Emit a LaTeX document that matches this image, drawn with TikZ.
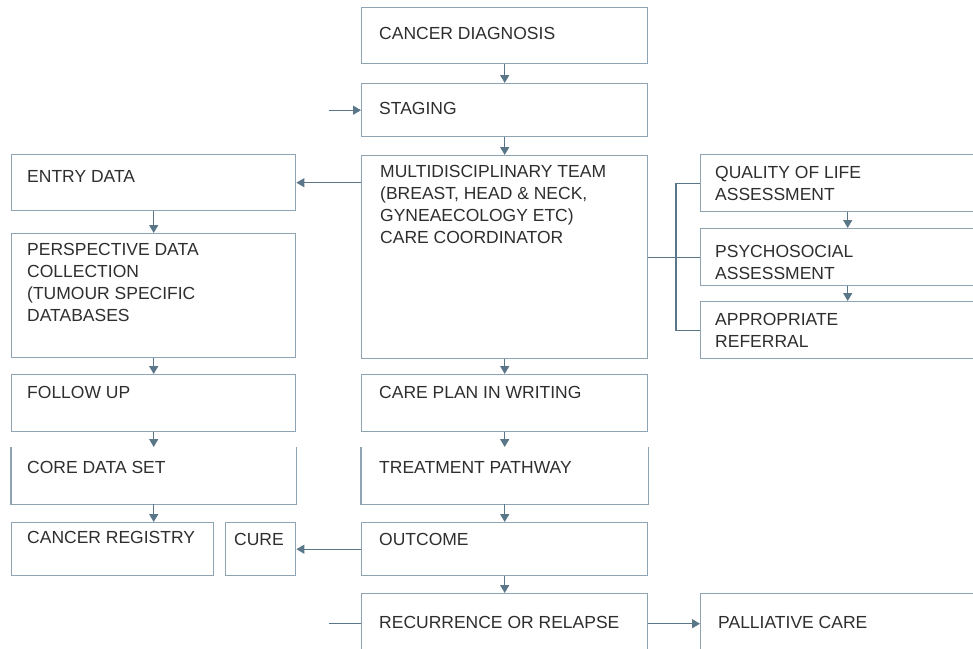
\documentclass[tikz,border=0pt]{standalone}
\usepackage{fontspec}
\setmainfont{Liberation Sans}
\usepackage{tikz}
\usetikzlibrary{arrows.meta,positioning}
\definecolor{Edge}{HTML}{8FA4B3}
\definecolor{Flow}{HTML}{5A7689}
\definecolor{Ink}{HTML}{2E2E2E}

\begin{document}
\begin{tikzpicture}[x=1pt,y=-1pt,
    box/.style={draw=Edge,line width=1.4pt,anchor=north west,inner sep=0pt},
    txt/.style={Ink,anchor=north west,inner sep=0pt,align=left,font=\fontsize{17.5}{22}\selectfont},
    arr/.style={Flow,line width=1.3pt,-{Triangle[width=9pt,length=8pt]}},
    link/.style={Flow,line width=1.3pt}]
  \useasboundingbox(0,0)rectangle(973,648);
  \clip(0,0)rectangle(973,648);
  % centre column
  \node[box,minimum width=286pt,minimum height=56pt](diag)at(361,7){};
  \node[box,minimum width=286pt,minimum height=53pt](staging)at(361,83){};
  \node[box,minimum width=286pt,minimum height=203pt](mdt)at(361,155){};
  \node[box,minimum width=286pt,minimum height=57pt](plan)at(361,374){};
  \node[box,draw=none,minimum width=286pt,minimum height=56pt](treat)at(361,447){};
  \node[box,minimum width=286pt,minimum height=53pt](outcome)at(361,522){};
  \node[box,minimum width=286pt,minimum height=60pt](recur)at(361,593){};
  % left column
  \node[box,minimum width=284pt,minimum height=56pt](entry)at(11,154){};
  \node[box,minimum width=284pt,minimum height=124pt](persp)at(11,233){};
  \node[box,minimum width=284pt,minimum height=57pt](follow)at(11,374){};
  \node[box,draw=none,minimum width=284pt,minimum height=56pt](core)at(11,447){};
  \node[box,minimum width=202pt,minimum height=53pt](registry)at(11,522){};
  \node[box,minimum width=70pt,minimum height=53pt](cure)at(225,522){};
  % right column
  \node[box,minimum width=294pt,minimum height=57pt](qol)at(700,154){};
  \node[box,minimum width=294pt,minimum height=57pt](psych)at(700,228){};
  \node[box,minimum width=294pt,minimum height=57pt](approp)at(700,301){};
  \node[box,minimum width=294pt,minimum height=60pt](pall)at(700,593){};
  % open top boxes
  \draw[Edge,line width=1.4pt](treat.north west)--(treat.south west)--(treat.south east)--(treat.north east);
  \draw[Edge,line width=1.4pt](core.north west)--(core.south west)--(core.south east)--(core.north east);

  % labels
  \node[txt,below right=20pt and 18pt of diag.north west](diagT){CANCER DIAGNOSIS};
  \node[txt,below right=19pt and 18pt of staging.north west](stagingT){STAGING};
  \node[txt,below right=10pt and 19pt of mdt.north west](mdtT){MULTIDISCIPLINARY TEAM\\(BREAST, HEAD \& NECK,\\GYNEAECOLOGY ETC)\\CARE COORDINATOR};
  \node[txt,below right=12.5pt and 18pt of plan.north west](planT){CARE PLAN IN WRITING};
  \node[txt,below right=14.5pt and 18pt of treat.north west](treatT){TREATMENT PATHWAY};
  \node[txt,below right=11.5pt and 18pt of outcome.north west](outcomeT){OUTCOME};
  \node[txt,below right=23.5pt and 18pt of recur.north west](recurT){RECURRENCE OR RELAPSE};
  \node[txt,below right=16.5pt and 16pt of entry.north west](entryT){ENTRY DATA};
  \node[txt,below right=10.5pt and 16pt of persp.north west](perspT){PERSPECTIVE DATA\\COLLECTION\\(TUMOUR SPECIFIC\\DATABASES};
  \node[txt,below right=12.5pt and 16pt of follow.north west](followT){FOLLOW UP};
  \node[txt,below right=14.5pt and 16pt of core.north west](coreT){CORE DATA SET};
  \node[txt,below right=9.5pt and 16pt of registry.north west](registryT){CANCER REGISTRY};
  \node[txt,below right=11.5pt and 9pt of cure.north west](cureT){CURE};
  \node[txt,below right=12.5pt and 15pt of qol.north west](qolT){QUALITY OF LIFE\\ASSESSMENT};
  \node[txt,below right=17.5pt and 15pt of psych.north west](psychT){PSYCHOSOCIAL\\ASSESSMENT};
  \node[txt,below right=12.5pt and 15pt of approp.north west](appropT){APPROPRIATE\\REFERRAL};
  \node[txt,below right=23.5pt and 18pt of pall.north west](pallT){PALLIATIVE CARE};

  % connectors
  \coordinate[left=32pt of staging.west](stagein);
  \coordinate[left=32pt of recur.west](recurin);
  \draw[arr](stagein)--(staging.west);
  \draw[link](recurin)--(recur.west);
  \draw[arr](diag)--(staging);
  \draw[arr](staging)--(mdt);
  \draw[arr](mdt)--(plan);
  \draw[arr](plan)--(treat);
  \draw[arr](treat)--(outcome);
  \draw[arr](outcome)--(recur);
  \draw[arr](recur.east)--(pall.west);
  \draw[arr](outcome.west)--(cure.east);
  \draw[arr](mdt.west|-entry)--(entry.east);
  \draw[arr](entry)--(persp);
  \draw[arr](persp)--(follow);
  \draw[arr](follow)--(core);
  \draw[arr](core.south)--(core.south|-registry.north);
  \draw[arr](qol)--(psych);
  \draw[arr](psych)--(approp);
  \draw[link](mdt.east)--(psych.west);
  \draw[link](qol.west)--++(-24,0)|-(approp.west);
\end{tikzpicture}
\end{document}
